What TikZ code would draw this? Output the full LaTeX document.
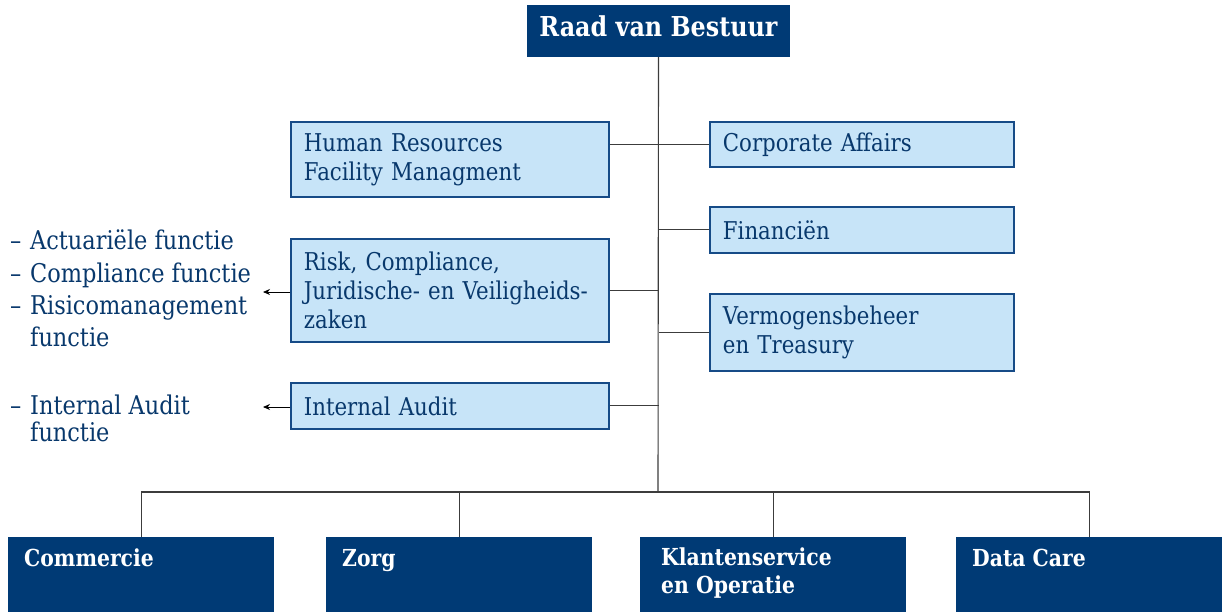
\documentclass[tikz,border=0pt]{standalone}
\usepackage{fontspec}
\setmainfont{DejaVu Serif}[FakeStretch=0.87]
\usetikzlibrary{arrows.meta}
\definecolor{navy}{RGB}{0,58,117}
\definecolor{lightfill}{RGB}{199,228,248}
\definecolor{boxborder}{RGB}{22,75,135}
\definecolor{txtblue}{RGB}{8,56,108}
\definecolor{linegray}{RGB}{60,60,60}
\newcommand\mydash{\makebox[20pt][l]{–}}
\newcommand\myindent{\hspace*{20pt}}
\begin{document}
\begin{tikzpicture}[x=1pt,y=-1pt,
  topbox/.style={fill=navy, draw=none, text=white, font=\bfseries\fontsize{27.4}{30}\selectfont, minimum width=263pt, minimum height=52pt, inner sep=0pt, text height=20pt, text depth=8.6pt},
  lightbox/.style={fill=lightfill, draw=boxborder, line width=1.8pt, text=txtblue, font=\fontsize{24.5}{29}\selectfont, align=left, anchor=north west, inner xsep=12pt, inner ysep=0pt},
  unitbox/.style={fill=navy, draw=none, anchor=north west, inner sep=0pt, minimum width=266pt, minimum height=80pt},
  unittext/.style={text=white, font=\bfseries\fontsize{23.4}{28}\selectfont, align=left, anchor=north west, inner sep=0pt},
  conn/.style={draw=linegray, line width=1.1pt},
  sidetext/.style={text=txtblue, align=left, anchor=north west, inner sep=0pt},
  arr/.style={-{Stealth[length=7pt,width=6pt]}, line width=0.8pt, black}
]
\useasboundingbox (0,0) rectangle (1224,611);

\node[topbox] (rvb) at (658.5,31) {Raad van Bestuur};

\node[lightbox, text width=292pt, minimum width=318pt, minimum height=75pt] (hr) at (290,121) {Human Resources\\Facility Managment};
\node[lightbox, text width=292pt, minimum width=318pt, minimum height=103pt] (risk) at (290,238) {Risk, Compliance,\\Juridische- en Veiligheids-\\zaken};
\node[lightbox, text width=292pt, minimum width=318pt, minimum height=46pt] (ia) at (290,382) {Internal Audit};

\node[lightbox, text width=278pt, minimum width=304pt, minimum height=45pt] (ca) at (709,121) {Corporate Affairs};
\node[lightbox, text width=278pt, minimum width=304pt, minimum height=46pt] (fin) at (709,206) {Financiën};
\node[lightbox, text width=278pt, minimum width=304pt, minimum height=77pt] (verm) at (709,293) {Vermogensbeheer\\en Treasury};

\node[sidetext, font=\fontsize{25.8}{32.3}\selectfont] (rlist) at (10,230) {\mydash Actuariële functie\\\mydash Compliance functie\\\mydash Risicomanagement\\\myindent functie};
\node[sidetext, font=\fontsize{25.8}{27}\selectfont] (ialist) at (10,395) {\mydash Internal Audit\\\myindent functie};

\node[unitbox] (com) at (8,537) {};
\node[unitbox] (zorg) at (326,537) {};
\node[unitbox] (kl) at (640,537) {};
\node[unitbox] (dc) at (956,537) {};
\node[unittext] (comt) at (24,549) {Commercie};
\node[unittext] (zorgt) at (342,549) {Zorg};
\node[unittext] (klt) at (661,548) {Klantenservice\\en Operatie};
\node[unittext] (dct) at (972,549) {Data Care};

\coordinate (tb) at (658,492);
\coordinate (ra) at (263,292);
\coordinate (ia2) at (263,407);

\draw[conn] (rvb.south) -- (tb);
\draw[conn] (hr.east |- ca.west) -- (ca.west);
\draw[conn] (fin.west) -- (fin.west -| rvb.south);
\draw[conn] (risk.east) -- (risk.east -| rvb.south);
\draw[conn] (verm.west) -- (verm.west -| rvb.south);
\draw[conn] (ia.east) -- (ia.east -| rvb.south);
\draw[conn] (com.north) |- (tb) -| (dc.north);
\draw[conn] (zorg.north) -- (zorg.north |- tb);
\draw[conn] (kl.north) -- (kl.north |- tb);

\draw[arr] (risk.west |- ra) -- (ra);
\draw[arr] (ia.west |- ia2) -- (ia2);
\end{tikzpicture}
\end{document}
